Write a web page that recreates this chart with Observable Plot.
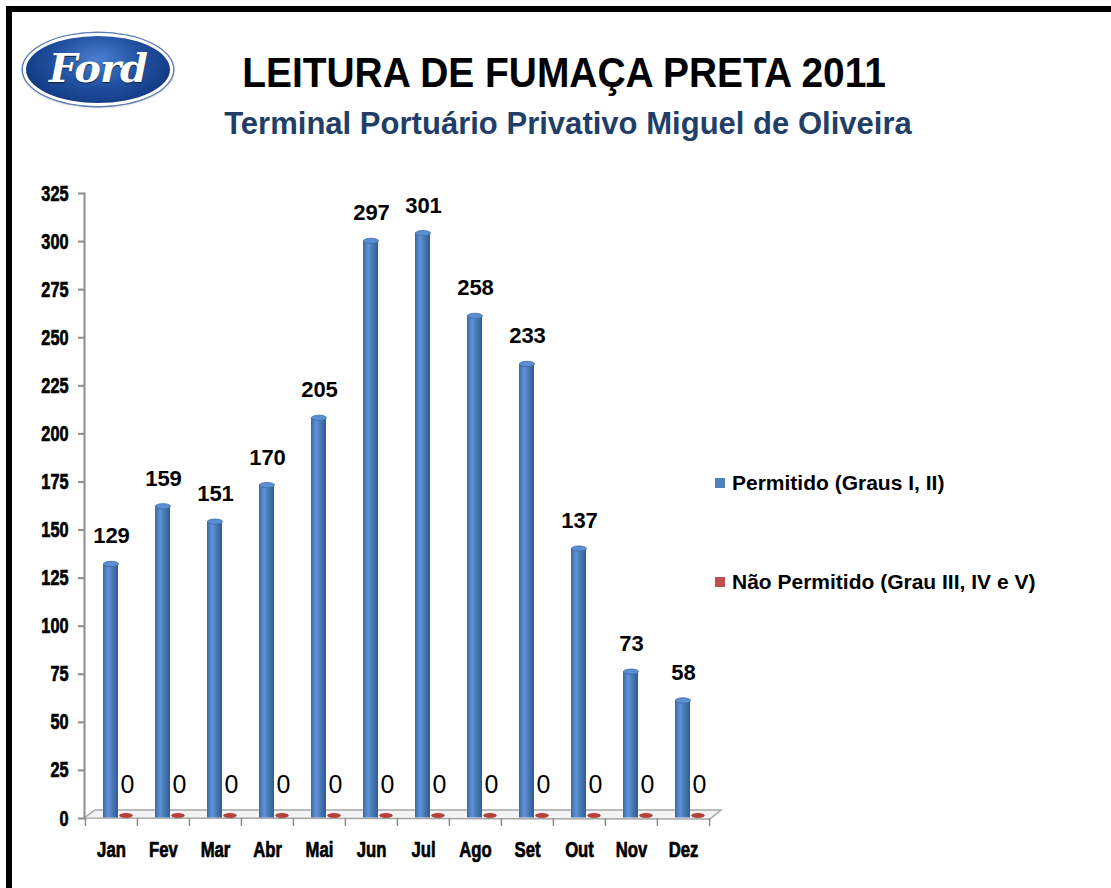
<!DOCTYPE html>
<html>
<head>
<meta charset="utf-8">
<script src="https://cdn.jsdelivr.net/npm/d3@7"></script>
<script src="https://cdn.jsdelivr.net/npm/@observablehq/plot@0.6"></script>
<style>
  html, body { margin: 0; padding: 0; background: #fff; }
  body { width: 1111px; height: 888px; position: relative; overflow: hidden; font-family: "Liberation Sans", Arial, sans-serif; }
  #frame { position: absolute; left: 6px; top: 6px; width: 1120px; height: 900px; border-top: 6px solid #000; border-left: 6px solid #000; }
  #logo { position: absolute; left: 23px; top: 33px; width: 144px; height: 67px; border-radius: 50%;
    background: radial-gradient(ellipse at 50% 35%, #4a7fd0 0%, #1f4f9e 45%, #0b2a6e 100%);
    border: 3px solid #fff; box-shadow: 0 0 0 1.5px #5a7fb8, 0 1px 3px rgba(0,0,0,.4); }
  #logo span { position: absolute; left: 0; right: 0; top: 8px; text-align: center; color: #fff; font-family: "DejaVu Serif", serif; font-style: italic; font-weight: bold; font-size: 40px; letter-spacing: -1px; text-shadow: 0 1px 1px #123; }
  .hdr { position: absolute; white-space: nowrap; font-family: "Liberation Sans", Arial, sans-serif; font-weight: bold; }
  #title { left: 564px; top: 48px; font-size: 43px; color: #000; transform: translateX(-50%) scaleX(0.905); }
  #subtitle { left: 568px; top: 105px; font-size: 32px; color: #1f3f68; transform: translateX(-50%) scaleX(0.97); }
  #chart { position: absolute; left: 0; top: 170px; }
  .li { position: absolute; left: 715px; white-space: nowrap; font-weight: bold; font-size: 21px; color: #000; }
  .li i { display: inline-block; width: 10px; height: 10px; margin-right: 7px; vertical-align: 2px; }
  #chart svg text { font-family: "Liberation Sans", Arial, sans-serif; }
  #chart svg g[aria-label="y-axis tick label"] text,
  #chart svg g[aria-label="x-axis tick label"] text { stroke: #000; stroke-width: 0.7px; }
  #chart svg g[aria-label="value label"] text { stroke: #000; stroke-width: 0.5px; }
</style>
</head>
<body>
<div id="frame"></div>
<div id="logo"><span>Ford</span></div>
<div id="title" class="hdr">LEITURA DE FUMAÇA PRETA 2011</div>
<div id="subtitle" class="hdr">Terminal Portuário Privativo Miguel de Oliveira</div>
<div id="chart"></div>
<div id="legendHolder"></div>
<script>
const months = ["Jan", "Fev", "Mar", "Abr", "Mai", "Jun", "Jul", "Ago", "Set", "Out", "Nov", "Dez"];
const permitido = [129, 159, 151, 170, 205, 297, 301, 258, 233, 137, 73, 58];
const naoPermitido = [0, 0, 0, 0, 0, 0, 0, 0, 0, 0, 0, 0];
const seriesNames = ["Permitido (Graus I, II)", "Não Permitido (Grau III, IV e V)"];
const seriesColors = ["#4f81bd", "#c0504d"];
const yTicks = [0, 25, 50, 75, 100, 125, 150, 175, 200, 225, 250, 275, 300, 325];

const blue = months.map((m, i) => ({month: m, value: permitido[i]}));
const red = months.map((m, i) => ({month: m, value: naoPermitido[i]}));

function ellipseSymbol(rx, ry) {
  return {
    draw(context) {
      const k = 0.5523;
      context.moveTo(-rx, 0);
      context.bezierCurveTo(-rx, -ry * k, -rx * k, -ry, 0, -ry);
      context.bezierCurveTo(rx * k, -ry, rx, -ry * k, rx, 0);
      context.bezierCurveTo(rx, ry * k, rx * k, ry, 0, ry);
      context.bezierCurveTo(-rx * k, ry, -rx, ry * k, -rx, 0);
      context.closePath();
    }
  };
}

function floorMark(index, scales, values, dimensions) {
  const {width, marginLeft, marginRight} = dimensions;
  const y0 = scales.y(0);
  const x0 = marginLeft, x1 = width - marginRight;
  const dx = 11, dy = -8;
  return d3.create("svg:path")
    .attr("d", `M${x0},${y0}L${x0 + dx},${y0 + dy}L${x1 + dx},${y0 + dy}L${x1},${y0 + 1}Z`)
    .attr("fill", "#f3f3f3")
    .attr("stroke", "#a6a6a6")
    .attr("stroke-width", 1.5)
    .node();
}

const chart = Plot.plot({
  width: 730,
  height: 700,
  marginLeft: 84,
  marginRight: 20,
  marginTop: 23,
  marginBottom: 52,
  style: {background: "transparent", overflow: "visible"},
  x: {type: "band", domain: months, padding: 0},
  y: {domain: [0, 325], ticks: yTicks},
  marks: [
    floorMark,
    Plot.frame({anchor: "left", stroke: "#8c8c8c", strokeWidth: 2}),
    Plot.axisY({ticks: yTicks, tickSize: 6, tickPadding: 10, stroke: "#8c8c8c", strokeWidth: 2, fill: "#000", fontSize: 22, fontWeight: "bold", label: null}),
    Plot.axisX({tickSize: 8, dx: -26.1, text: null, stroke: "#8c8c8c", strokeWidth: 1.5, label: null}),
    Plot.axisX({ticks: ["Dez"], tickSize: 8, dx: 26.1, text: null, stroke: "#8c8c8c", strokeWidth: 1.5, label: null}),
    Plot.axisX({tickSize: 0, tickPadding: 23, fill: "#000", fontSize: 22, fontWeight: "bold", label: null}),
    Plot.barY(blue, {x: "month", y: "value", fill: "url(#cylBlue)", insetLeft: 18, insetRight: 19, dy: -6.5, insetBottom: -6}),
    Plot.dot(blue, {x: "month", y: "value", dx: -0.5, dy: -6.5, symbol: ellipseSymbol(7.5, 2.6), fill: "#5b8fd1", stroke: "#3d6cab", strokeWidth: 0.8}),
    Plot.dot(red, {x: "month", y: "value", dx: 14.5, dy: -3, symbol: ellipseSymbol(6.5, 2.2), fill: "#b8403d", stroke: "#9a3330", strokeWidth: 0.5}),
    Plot.text(blue, {x: "month", y: "value", text: d => String(d.value), dy: -34, fill: "#000", fontSize: 22, fontWeight: "bold", ariaLabel: "value label"}),
    Plot.text(red, {x: "month", y: "value", text: d => String(d.value), dx: 16, dy: -34, fill: "#000", fontSize: 25, fontWeight: "normal", ariaLabel: "zero label"})
  ]
});

// gradient definition for the cylinders
const svgNS = "http://www.w3.org/2000/svg";
const defs = document.createElementNS(svgNS, "defs");
defs.innerHTML = `<linearGradient id="cylBlue" x1="0" x2="1" y1="0" y2="0">
  <stop offset="0" stop-color="#3869aa"/>
  <stop offset="0.35" stop-color="#6194d6"/>
  <stop offset="0.55" stop-color="#4f81bd"/>
  <stop offset="1" stop-color="#2e5c98"/>
</linearGradient>`;
chart.insertBefore(defs, chart.firstChild);

// condense bold chart text horizontally (narrow face look) about each text's anchor
function condense(selector, s) {
  chart.querySelectorAll(selector).forEach(t => {
    const tr = t.getAttribute("transform");
    if (tr && tr.includes("translate")) {
      t.setAttribute("transform", tr + ` scale(${s},1)`);
    } else {
      const x = +(t.getAttribute("x") || 0), y = +(t.getAttribute("y") || 0);
      t.removeAttribute("x"); t.removeAttribute("y");
      t.setAttribute("transform", `translate(${x},${y}) scale(${s},1)` + (tr ? " " + tr : ""));
    }
  });
}
condense('g[aria-label="y-axis tick label"] text', 0.74);
condense('g[aria-label="x-axis tick label"] text', 0.76);
condense('g[aria-label="value label"] text', 0.8);

document.getElementById("chart").appendChild(chart);

// legend
const lh = document.getElementById("legendHolder");
const legendTops = [471, 570];
seriesNames.forEach((name, i) => {
  const d = document.createElement("div");
  d.className = "li";
  d.style.top = legendTops[i] + "px";
  d.innerHTML = `<i style="background:${seriesColors[i]}"></i>${name}`;
  lh.appendChild(d);
});
</script>
</body>
</html>
